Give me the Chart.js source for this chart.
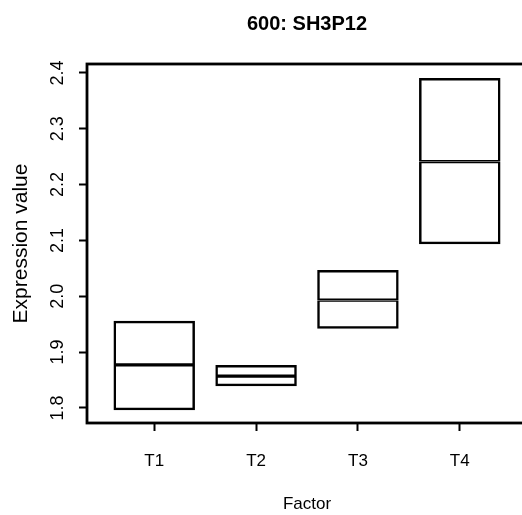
<!DOCTYPE html>
<html>
<head>
<meta charset="utf-8">
<script src="https://cdn.jsdelivr.net/npm/chart.js@4/dist/chart.umd.min.js"></script>
<style>
  html, body { margin: 0; padding: 0; background: #ffffff; overflow: hidden; }
  #wrap { width: 614px; height: 515px; }
</style>
</head>
<body>
<div id="wrap"><canvas id="c" width="614" height="515"></canvas></div>
<script>
// ---- data ----
const categories = ['T1', 'T2', 'T3', 'T4'];
const lowerQuartile = [1.796, 1.839, 1.942, 2.093];
const medianValue   = [1.877, 1.857, 1.993, 2.241];
const upperQuartile = [1.956, 1.877, 2.047, 2.391];
const yTickValues = [1.8, 1.9, 2.0, 2.1, 2.2, 2.3, 2.4];
const yRange = [1.773, 2.416];
const xRange = [0.34, 4.66];
const chartTitle = '600: SH3P12';
const xTitle = 'Factor';
const yTitle = 'Expression value';

const FONT = '"Liberation Sans", Arial, Helvetica, sans-serif';

const lowerHalf = categories.map((c, i) => ({ x: i + 1, y: [lowerQuartile[i], medianValue[i]] }));
const upperHalf = categories.map((c, i) => ({ x: i + 1, y: [medianValue[i], upperQuartile[i]] }));

const framePlugin = {
  id: 'frame',
  afterDatasetsDraw(chart) {
    const a = chart.chartArea, ctx = chart.ctx;
    ctx.save();
    ctx.strokeStyle = '#000';
    ctx.lineWidth = 2.8;
    ctx.strokeRect(a.left, a.top, a.right - a.left, a.bottom - a.top);
    ctx.restore();
  }
};

const boxCommon = {
  type: 'bar',
  backgroundColor: 'rgba(255,255,255,0)',
  borderColor: '#000',
  borderSkipped: false,
  grouped: false,
  categoryPercentage: 1.0,
  barPercentage: 0.8,
  xAxisID: 'x',
  yAxisID: 'y'
};

new Chart(document.getElementById('c'), {
  type: 'bar',
  data: {
    datasets: [
      Object.assign({ label: 'lower', data: lowerHalf,
        borderWidth: { top: 1.6, bottom: 2.5, left: 2.5, right: 2.5 } }, boxCommon),
      Object.assign({ label: 'upper', data: upperHalf,
        borderWidth: { top: 2.5, bottom: 1.6, left: 2.5, right: 2.5 } }, boxCommon)
    ]
  },
  options: {
    responsive: false,
    devicePixelRatio: 1,
    animation: false,
    layout: { padding: 0 },
    plugins: {
      legend: { display: false },
      tooltip: { enabled: false },
      title: {
        display: true,
        text: chartTitle,
        color: '#000',
        font: { family: FONT, size: 20, weight: 'bold' },
        padding: { top: 12, bottom: 28 }
      }
    },
    scales: {
      x: {
        type: 'linear',
        position: 'bottom',
        offset: false,
        min: xRange[0],
        max: xRange[1],
        afterBuildTicks(s) { s.ticks = categories.map((c, i) => ({ value: i + 1 })); },
        afterFit(s) { s.height = 92; },
        ticks: {
          autoSkip: false,
          maxRotation: 0,
          padding: 20,
          color: '#000',
          font: { family: FONT, size: 17 },
          callback(v) { return categories[Math.round(v) - 1] || ''; }
        },
        grid: { display: true, offset: false, drawOnChartArea: false, drawTicks: true, tickLength: 8, tickWidth: 2, tickColor: '#000' },
        border: { display: true, color: '#000', width: 2 },
        title: {
          display: true, text: xTitle, color: '#000',
          font: { family: FONT, size: 17 },
          padding: { top: 0, bottom: 0 }
        }
      },
      y: {
        type: 'linear',
        position: 'left',
        min: yRange[0],
        max: yRange[1],
        afterBuildTicks(s) { s.ticks = yTickValues.map(v => ({ value: v })); },
        afterFit(s) { s.width = 87; },
        ticks: {
          autoSkip: false,
          minRotation: 90,
          maxRotation: 90,
          crossAlign: 'center',
          padding: 8,
          color: '#000',
          font: { family: FONT, size: 18 },
          callback(v) { return Number(v).toFixed(1); }
        },
        grid: { display: true, drawOnChartArea: false, drawTicks: true, tickLength: 8, tickWidth: 2, tickColor: '#000' },
        border: { display: true, color: '#000', width: 2 },
        title: {
          display: true, text: yTitle, color: '#000',
          font: { family: FONT, size: 21 },
          padding: { top: 9, bottom: 0 }
        }
      },
      yRightSpace: {
        type: 'linear',
        position: 'right',
        display: true,
        min: 0, max: 1,
        afterFit(s) { s.width = 87; },
        ticks: { display: false },
        grid: { display: false, drawTicks: false },
        border: { display: false }
      }
    }
  },
  plugins: [framePlugin]
});
</script>
</body>
</html>
